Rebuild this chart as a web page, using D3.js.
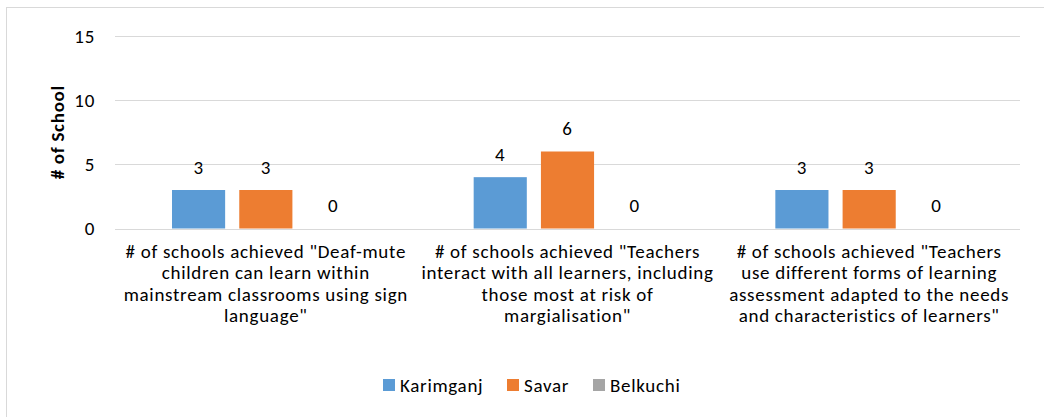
<html>
<head>
<meta charset="utf-8">
<title>Schools</title>
<style>
body { margin: 0; background: white; }
svg text { font-family: Carlito, Calibri, Lato, sans-serif; fill: #000; font-size: 19px; letter-spacing: 0.7px; }
.grid line { stroke: #d9d9d9; stroke-width: 1px; }
.y.axis .domain { display: none; }
.y.axis .tick line { display: none; }
.y.axis .tick text { font-size: 19px; font-family: Carlito, Calibri, Lato, sans-serif; }
</style>
</head>
<body>
<svg id="chart" width="1044" height="417"></svg>
<script src="https://cdn.jsdelivr.net/npm/d3@7"></script>
<script>

var categories = [
  ["# of schools achieved \"Deaf-mute", "children can learn within", "mainstream classrooms using sign", "language\""],
  ["# of schools achieved \"Teachers", "interact with all learners, including", "those most at risk of", "margialisation\""],
  ["# of schools achieved \"Teachers", "use different forms of learning", "assessment adapted to the needs", "and characteristics of learners\""]
];
var series = ["Karimganj", "Savar", "Belkuchi"];
var karimganj = [3, 4, 3];
var savar = [3, 6, 3];
var belkuchi = [0, 0, 0];
var yTicks = [0, 5, 10, 15];
var colors = ["#5B9BD5", "#ED7D31", "#A5A5A5"];

var values = [karimganj, savar, belkuchi];

var margin = {left: 115, right: 24, top: 36, bottom: 188.5};
var width = 1044 - margin.left - margin.right;
var height = 417 - margin.top - margin.bottom;

var svg = d3.select("#chart");

// chart frame
svg.append("rect")
    .attr("x", 6.5).attr("y", 7.5)
    .attr("width", 1100).attr("height", 500)
    .attr("fill", "none").attr("stroke", "#d9d9d9");

var g = svg.append("g")
    .attr("transform", "translate(" + margin.left + "," + margin.top + ")");

var x0 = d3.scaleBand()
    .domain(d3.range(categories.length))
    .range([0, width]);

var pad = 57;
var x1 = d3.scaleBand()
    .domain(series)
    .range([pad, x0.bandwidth() - pad])
    .paddingInner(0.21);

var y = d3.scaleLinear()
    .domain([0, 15])
    .range([height, 0]);

g.append("g")
    .attr("class", "grid")
  .selectAll("line")
  .data(yTicks)
  .enter().append("line")
    .attr("x1", 0).attr("x2", width)
    .attr("y1", function(d) { return Math.round(y(d)) + 0.5; })
    .attr("y2", function(d) { return Math.round(y(d)) + 0.5; });

g.append("g")
    .attr("class", "y axis")
    .attr("transform", "translate(-14,0)")
    .call(d3.axisLeft(y).tickValues(yTicks).tickSize(0).tickPadding(6));

g.append("text")
    .attr("transform", "translate(-58," + (height / 2) + ") rotate(-90)")
    .attr("text-anchor", "middle")
    .attr("dominant-baseline", "central")
    .style("font-weight", "bold")
    .text("# of School");

var groups = g.selectAll(".group")
  .data(categories)
  .enter().append("g")
    .attr("class", "group")
    .attr("transform", function(d, i) { return "translate(" + x0(i) + ",0)"; });

series.forEach(function(s, si) {
  groups.append("rect")
      .attr("x", function(d, i) { return x1(s); })
      .attr("y", function(d, i) { return y(values[si][i]); })
      .attr("width", x1.bandwidth())
      .attr("height", function(d, i) { return height - y(values[si][i]); })
      .attr("fill", colors[si]);

  groups.append("text")
      .attr("x", function(d, i) { return x1(s) + x1.bandwidth() / 2; })
      .attr("y", function(d, i) { return y(values[si][i]) - 23; })
      .attr("text-anchor", "middle")
      .attr("dominant-baseline", "central")
      .text(function(d, i) { return values[si][i]; });
});

// category labels
groups.append("text")
    .attr("text-anchor", "middle")
    .each(function(d) {
      var t = d3.select(this);
      d.forEach(function(line, li) {
        t.append("tspan")
            .attr("x", x0.bandwidth() / 2)
            .attr("y", height + 22.5 + li * 21.5)
            .attr("dominant-baseline", "central")
            .text(line);
      });
    });

// legend
var legendX = [383, 507, 593];
var legend = svg.append("g");
series.forEach(function(s, si) {
  legend.append("rect")
      .attr("x", legendX[si]).attr("y", 379)
      .attr("width", 12).attr("height", 12)
      .attr("fill", colors[si]);
  legend.append("text")
      .attr("x", legendX[si] + 17).attr("y", 385)
      .attr("dominant-baseline", "central")
      .text(s);
});

</script>
</body>
</html>
